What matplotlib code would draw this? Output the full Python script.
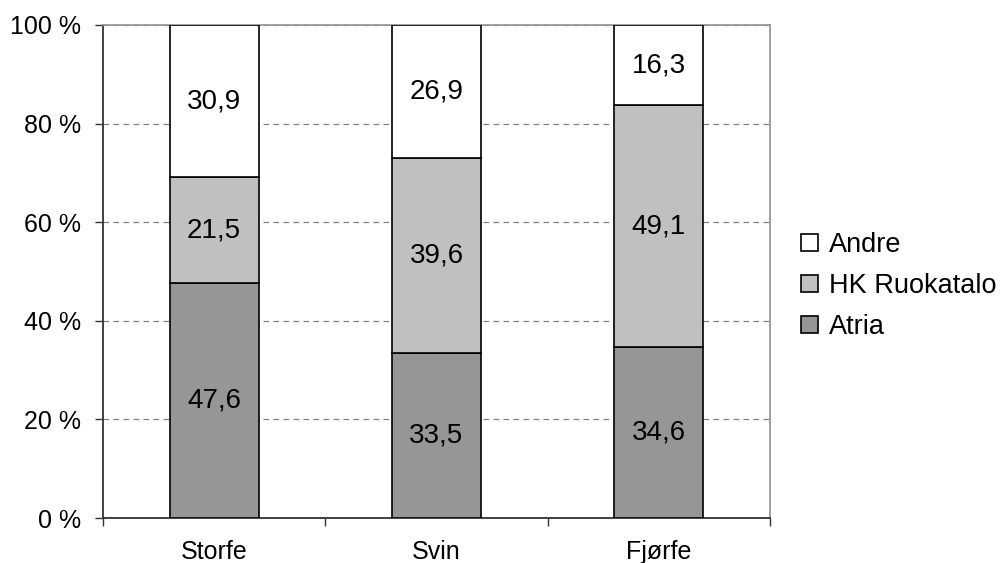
import matplotlib
matplotlib.use("Agg")
import matplotlib.pyplot as plt
from matplotlib.patches import Patch

plt.rcParams['font.family'] = ['Liberation Sans', 'DejaVu Sans']

# andel i prosent per kategori
kategorier = ["Storfe", "Svin", "Fjørfe"]
atria = [47.6, 33.5, 34.6]
hk = [21.5, 39.6, 49.1]
andre = [30.9, 26.9, 16.3]
yticks = [0, 20, 40, 60, 80, 100]

farger = {"Atria": "#969696", "HK Ruokatalo": "#c0c0c0", "Andre": "#ffffff"}

fig = plt.figure(figsize=(10.03, 5.63), dpi=100)
ax = fig.add_axes([103/1003, 1-518/563, (770-103)/1003, (518-25)/563])

x = list(range(len(kategorier)))
bunn = [0, 0, 0]
for navn, verdier in [("Atria", atria), ("HK Ruokatalo", hk), ("Andre", andre)]:
    ax.bar(x, verdier, bottom=bunn, width=0.4, color=farger[navn],
           edgecolor="black", linewidth=1.2, zorder=3)
    for i, v in enumerate(verdier):
        ax.text(x[i], bunn[i] + v/2, str(v).replace(".", ","),
                ha="center", va="center", fontsize=20, zorder=4)
    bunn = [b + v for b, v in zip(bunn, verdier)]

ax.set_xlim(-0.5, 2.5)
ax.set_ylim(0, 100)
ax.set_yticks(yticks)
ax.set_yticklabels([f"{t} %" for t in yticks], fontsize=18)
ax.set_xticks(x)
ax.set_xticklabels(kategorier, fontsize=18)
ax.set_xticks([-0.5, 0.5, 1.5, 2.5], minor=True)
ax.tick_params(axis="x", which="major", length=0, pad=16)
ax.tick_params(axis="x", which="minor", length=6, width=1, color="#333333")
ax.tick_params(axis="y", length=6, width=1, color="#333333", pad=10)

ax.yaxis.grid(True, color="#808080", linestyle=(0, (4.5, 3.5)), linewidth=0.9, zorder=0)
ax.set_axisbelow(True)

for s in ["left", "bottom"]:
    ax.spines[s].set_color("#333333")
    ax.spines[s].set_linewidth(1.3)
for s in ["top", "right"]:
    ax.spines[s].set_color("#999999")
    ax.spines[s].set_linewidth(1.3)

handles = [Patch(facecolor=farger[n], edgecolor="black", linewidth=1.2, label=n)
           for n in ["Andre", "HK Ruokatalo", "Atria"]]
fig.legend(handles=handles, loc="center left", bbox_to_anchor=(801/1003, 1-286/563),
           frameon=False, fontsize=19.5, handlelength=0.62, handleheight=0.62,
           handletextpad=0.4, labelspacing=0.55, borderpad=0, borderaxespad=0)

fig.savefig("out.png", dpi=100)
